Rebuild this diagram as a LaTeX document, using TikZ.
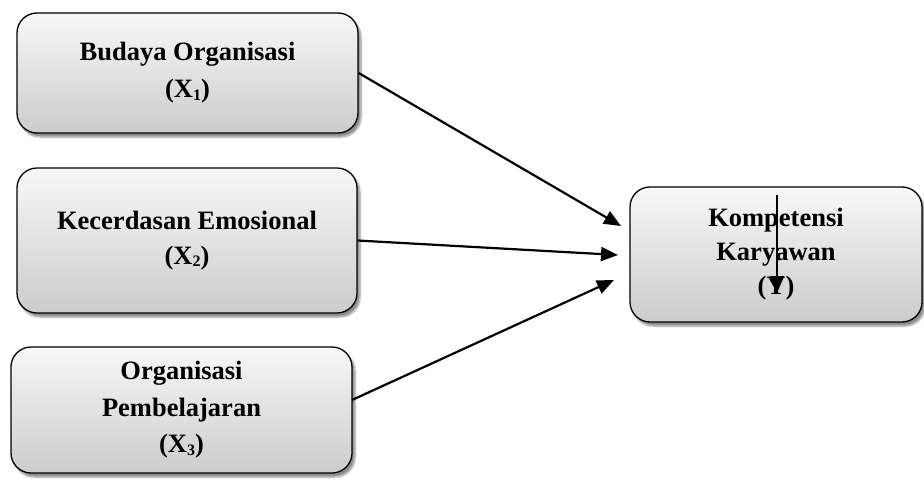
\documentclass[tikz,border=0pt]{standalone}
\usepackage{fontspec}
\setmainfont{Liberation Serif}
\usetikzlibrary{arrows.meta,shadows.blur}
\newcommand{\subd}[1]{\raisebox{-2.5pt}{\fontsize{16}{16}\selectfont #1}}
\tikzset{
  varbox/.style={draw=black, line width=1.3pt, rounded corners=20pt,
    top color=gray!6, bottom color=gray!40,
    blur shadow={shadow xshift=3pt, shadow yshift=-4pt, shadow blur steps=6, shadow opacity=45},
    align=center, font=\fontsize{26.5}{36}\selectfont\bfseries, inner sep=0pt},
  conn/.style={line width=2.2pt, -{Triangle[length=17pt,width=14pt]}}
}
\begin{document}
\begin{tikzpicture}[x=1pt,y=-1pt]
\useasboundingbox (0,0) rectangle (924,482);
\node[varbox, minimum width=341pt, minimum height=120pt, font=\fontsize{26.5}{37}\selectfont\bfseries] (b1) at (187.5,73) {Budaya Organisasi\\(X\subd{1})};
\node[varbox, minimum width=340pt, minimum height=145pt, font=\fontsize{26.5}{35}\selectfont\bfseries] (b2) at (187,240.5) {Kecerdasan Emosional\\(X\subd{2})};
\node[varbox, minimum width=341pt, minimum height=126pt, font=\fontsize{26.5}{36.5}\selectfont\bfseries] (b3) at (181.5,410) {Organisasi\\Pembelajaran\\(X\subd{3})};
\node[varbox, minimum width=292pt, minimum height=135pt, font=\fontsize{26.5}{34}\selectfont\bfseries] (y) at (776,254.5) {Kompetensi\\Karyawan\\(Y)};
\coordinate (s3) at (352,400);
\coordinate (t1) at (621,226);
\coordinate (t2) at (618,255);
\coordinate (t3) at (614,280);
\coordinate (da) at (777,195);
\coordinate (db) at (777,293);
\draw[conn] (b1.east) -- (t1);
\draw[conn] (b2.east) -- (t2);
\draw[conn] (s3) -- (t3);
\draw[conn] (da) -- (db);
\end{tikzpicture}
\end{document}
